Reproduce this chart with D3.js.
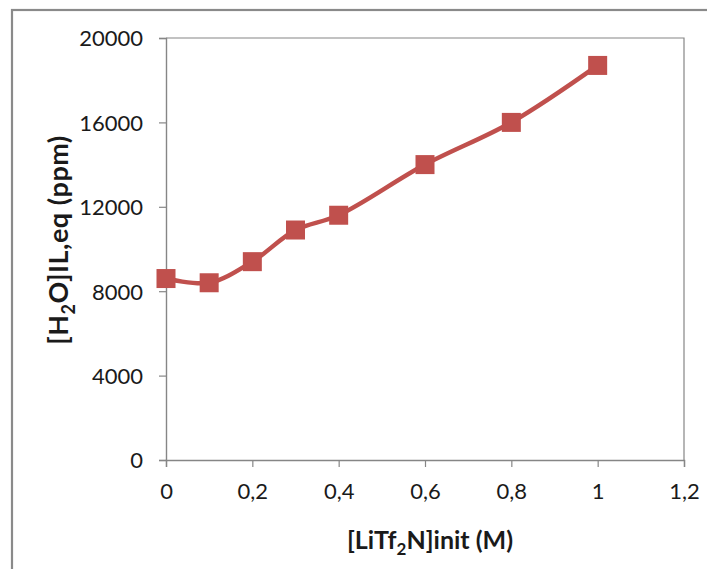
<!DOCTYPE html>
<html>
<head>
<meta charset="utf-8">
<script src="https://cdn.jsdelivr.net/npm/d3@7/dist/d3.min.js"></script>
<style>
  html, body { margin: 0; padding: 0; background: #fff; }
  svg { display: block; }
</style>
</head>
<body>
<svg id="chart" width="707" height="569"></svg>
<script>
// ---- data ----
const concentrations = [0, 0.1, 0.2, 0.3, 0.4, 0.6, 0.8, 1.0];
const waterPpm = [8600, 8400, 9400, 10900, 11600, 14000, 16000, 18700];
const xTicks = [0, 0.2, 0.4, 0.6, 0.8, 1, 1.2];
const yTicks = [0, 4000, 8000, 12000, 16000, 20000];
const xDomain = [0, 1.2];
const yDomain = [0, 20000];

// ---- layout ----
const W = 707, H = 569;
const plot = { left: 166, right: 684, top: 38, bottom: 460 };
const svg = d3.select("#chart");
const font = "Lato, 'Open Sans', sans-serif";
const axisColor = "#868686";
const seriesColor = "#C0504D";

// outer chart border
svg.append("rect")
  .attr("x", 12).attr("y", 10)
  .attr("width", 760).attr("height", 640)
  .attr("fill", "none").attr("stroke", "#8a8a8a").attr("stroke-width", 2.2);

const x = d3.scaleLinear().domain(xDomain).range([plot.left, plot.right]);
const y = d3.scaleLinear().domain(yDomain).range([plot.bottom, plot.top]);

// plot area border (top & right)
svg.append("path")
  .attr("d", `M${plot.left},${plot.top}H${plot.right}V${plot.bottom}`)
  .attr("fill", "none").attr("stroke", axisColor).attr("stroke-width", 1.2);

// y axis
const yAxis = svg.append("g")
  .attr("transform", `translate(${plot.left},0)`)
  .call(d3.axisLeft(y).tickValues(yTicks).tickSize(7).tickPadding(16)
        .tickFormat(d3.format("d")));
// x axis
const xAxis = svg.append("g")
  .attr("transform", `translate(0,${plot.bottom})`)
  .call(d3.axisBottom(x).tickValues(xTicks).tickSize(7).tickPadding(19)
        .tickFormat(d => String(d).replace(".", ",")));

[yAxis, xAxis].forEach(g => {
  g.select(".domain").attr("stroke", axisColor).attr("stroke-width", 1.4);
  g.selectAll(".tick line").attr("stroke", axisColor).attr("stroke-width", 1.2);
  g.selectAll(".tick text")
    .attr("fill", "#1a1a1a")
    .style("font-family", font)
    .style("font-size", "22px");
});
yAxis.selectAll(".tick text").attr("dy", "0.36em");
xAxis.selectAll(".tick text").attr("dy", "0.58em");

// series line (smoothed)
const line = d3.line()
  .x((d, i) => x(concentrations[i]))
  .y(d => y(d))
  .curve(d3.curveCatmullRom.alpha(0.5));

svg.append("path")
  .datum(waterPpm)
  .attr("d", line)
  .attr("fill", "none")
  .attr("stroke", seriesColor)
  .attr("stroke-width", 4.5)
  .attr("stroke-linejoin", "round");

// square markers
const ms = 19;
svg.append("g").selectAll("rect")
  .data(waterPpm)
  .join("rect")
  .attr("x", (d, i) => x(concentrations[i]) - ms / 2)
  .attr("y", d => y(d) - ms / 2)
  .attr("width", ms).attr("height", ms)
  .attr("fill", seriesColor);

// x axis title
const xt = svg.append("text")
  .attr("x", 430)
  .attr("y", 549)
  .attr("text-anchor", "middle")
  .attr("fill", "#1a1a1a")
  .style("font-family", font)
  .style("font-weight", "bold")
  .style("font-size", "25px");
xt.append("tspan").text("[LiTf");
xt.append("tspan").attr("dy", 6).style("font-size", "17px").text("2");
xt.append("tspan").attr("dy", -6).text("N]init (M)");

// y axis title
const yt = svg.append("text")
  .attr("transform", `translate(68,240) rotate(-90)`)
  .attr("text-anchor", "middle")
  .attr("fill", "#1a1a1a")
  .style("font-family", font)
  .style("font-weight", "bold")
  .style("font-size", "27px")
  .style("letter-spacing", "0.5px");
yt.append("tspan").text("[H");
yt.append("tspan").attr("dy", 7).style("font-size", "18px").text("2");
yt.append("tspan").attr("dy", -7).text("O]IL,eq (ppm)");
</script>
</body>
</html>
